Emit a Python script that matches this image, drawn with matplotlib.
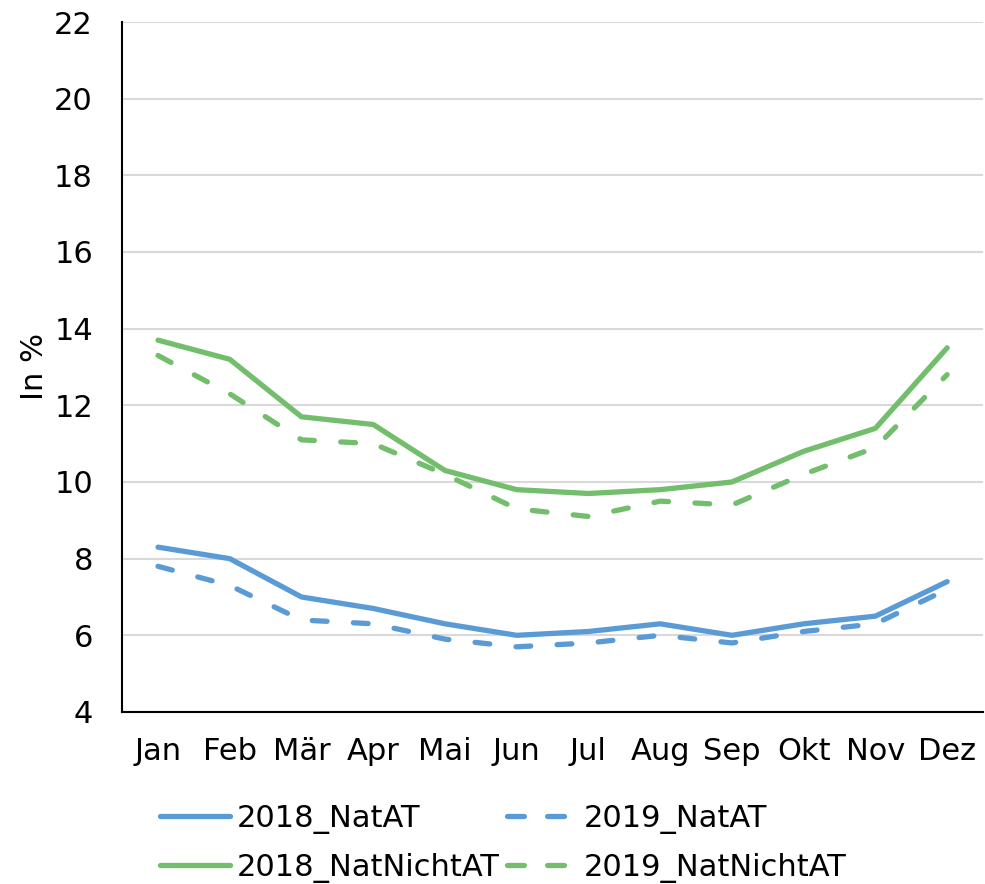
import matplotlib.pyplot as plt
import numpy as np

plt.rcParams['font.family'] = ['DejaVu Sans']
plt.rcParams['font.size'] = 22

monate = ['Jan', 'Feb', 'Mär', 'Apr', 'Mai', 'Jun', 'Jul', 'Aug', 'Sep', 'Okt', 'Nov', 'Dez']
nat_at_2018 = [8.3, 8.0, 7.0, 6.7, 6.3, 6.0, 6.1, 6.3, 6.0, 6.3, 6.5, 7.4]
nat_at_2019 = [7.8, 7.3, 6.4, 6.3, 5.9, 5.7, 5.8, 6.0, 5.8, 6.1, 6.3, 7.2]
nicht_at_2018 = [13.7, 13.2, 11.7, 11.5, 10.3, 9.8, 9.7, 9.8, 10.0, 10.8, 11.4, 13.5]
nicht_at_2019 = [13.3, 12.3, 11.1, 11.0, 10.2, 9.3, 9.1, 9.5, 9.4, 10.2, 10.9, 12.8]

blau = '#5B9BD5'
gruen = '#72BE6C'

fig = plt.figure(figsize=(9.85, 8.84), dpi=100)
ax = fig.add_axes([0.124, 0.1946, 0.874, 0.7805])

x = np.arange(len(monate))
lw = 3.8
strich = (2.8, 5.0)
l1, = ax.plot(x, nat_at_2018, '-', color=blau, lw=lw, solid_capstyle='round', label='2018_NatAT')
l2, = ax.plot(x, nat_at_2019, '--', color=blau, lw=lw, dashes=strich, dash_capstyle='round', label='2019_NatAT')
l3, = ax.plot(x, nicht_at_2018, '-', color=gruen, lw=lw, solid_capstyle='round', label='2018_NatNichtAT')
l4, = ax.plot(x, nicht_at_2019, '--', color=gruen, lw=lw, dashes=strich, dash_capstyle='round', label='2019_NatNichtAT')

ax.set_xlim(-0.5, 11.5)
ax.set_ylim(4, 22)
ax.set_yticks(np.arange(4, 23, 2))
ax.set_xticks(x)
ax.set_xticklabels(monate)
ax.grid(axis='y', color='#d9d9d9', lw=1.5)
ax.set_axisbelow(True)
for s in ['top', 'right']:
    ax.spines[s].set_visible(False)
ax.spines['left'].set_linewidth(1.5)
ax.spines['bottom'].set_linewidth(1.5)
ax.tick_params(axis='both', length=0, labelsize=22)
ax.tick_params(axis='x', pad=18)
ax.tick_params(axis='y', pad=21)
ax.set_ylabel('In %', fontsize=22, labelpad=4)

# Legende zeilenweise wie im Original
leg = fig.legend([l1, l3, l2, l4], [l1.get_label(), l3.get_label(), l2.get_label(), l4.get_label()],
                 loc='upper left', bbox_to_anchor=(160 / 985, 1 - 804 / 884), ncol=2, frameon=False,
                 fontsize=22, handlelength=2.3, columnspacing=0.25, handletextpad=0.2,
                 labelspacing=0.62, borderpad=0, borderaxespad=0)
for h in leg.get_lines():
    if h.get_linestyle() != '-':
        h.set_dashes((3.2, 4.4))

fig.savefig('out.png', dpi=100)
